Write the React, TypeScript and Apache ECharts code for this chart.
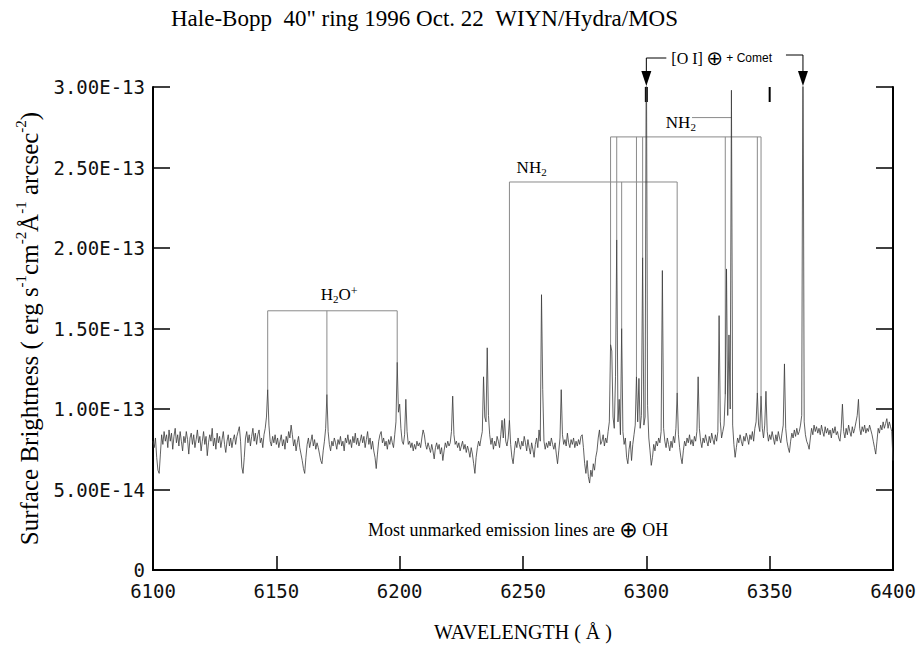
import React, { useEffect, useRef } from "react";
import * as echarts from "echarts";

// Spectrum: surface brightness in units of 1e-15 erg s^-1 cm^-2 A^-1 arcsec^-2, sampled every 0.5 A from 6100 A
const WL_START = 6100;
const WL_STEP = 0.5;
const FLUX_UNIT = 1e-15;
const flux: number[] = [
  80, 76, 82, 70, 62, 60, 72, 84, 78, 86, 80, 84, 76, 87, 80, 85, 75, 83, 88, 79, // 6100
  84, 77, 86, 80, 74, 83, 79, 86, 81, 72, 82, 85, 78, 84, 76, 81, 87, 79, 83, 74, // 6110
  80, 86, 78, 83, 71, 79, 84, 80, 88, 77, 82, 75, 85, 79, 83, 76, 81, 86, 78, 73, // 6120
  80, 84, 77, 82, 76, 81, 84, 78, 83, 86, 89, 80, 64, 60, 70, 82, 86, 79, 84, 77, // 6130
  83, 88, 80, 85, 78, 84, 87, 79, 82, 76, 84, 88, 95, 112, 90, 80, 77, 83, 79, 84, // 6140
  78, 82, 76, 80, 84, 77, 81, 75, 83, 79, 86, 82, 90, 84, 77, 81, 74, 79, 83, 76, // 6150
  72, 68, 63, 60, 70, 78, 82, 76, 80, 84, 77, 81, 75, 79, 76, 72, 68, 66, 74, 80, // 6160
  88, 109, 86, 78, 74, 80, 77, 82, 79, 75, 81, 78, 83, 77, 80, 74, 82, 79, 84, 78, // 6170
  81, 76, 83, 79, 85, 78, 82, 77, 80, 84, 79, 83, 76, 81, 86, 78, 82, 75, 80, 74, // 6180
  70, 63, 72, 80, 84, 86, 79, 82, 77, 80, 75, 81, 78, 83, 79, 76, 84, 92, 129, 98, // 6190
  103, 88, 80, 78, 84, 106, 86, 78, 80, 76, 79, 74, 78, 75, 80, 77, 79, 76, 82, 87, // 6200
  84, 78, 75, 79, 76, 73, 78, 74, 69, 76, 79, 75, 78, 72, 76, 68, 74, 79, 76, 80, // 6210
  77, 79, 86, 108, 84, 78, 80, 76, 79, 74, 77, 80, 75, 78, 73, 77, 74, 70, 76, 72, // 6220
  66, 60, 70, 76, 80, 77, 82, 86, 120, 95, 92, 138, 96, 84, 78, 82, 75, 80, 77, 83, // 6230
  80, 76, 84, 93, 82, 94, 80, 77, 82, 93, 78, 70, 66, 74, 80, 76, 82, 78, 75, 80, // 6240
  77, 83, 79, 74, 81, 76, 72, 79, 75, 70, 78, 82, 76, 87, 80, 171, 112, 80, 75, 79, // 6250
  76, 80, 77, 82, 78, 75, 79, 72, 66, 74, 82, 112, 84, 78, 81, 77, 85, 79, 76, 81, // 6260
  78, 82, 76, 80, 77, 81, 78, 83, 84, 76, 66, 60, 68, 58, 54, 62, 58, 66, 62, 70, // 6270
  74, 82, 87, 78, 80, 84, 77, 82, 79, 86, 92, 140, 136, 95, 88, 120, 205, 92, 106, 84, // 6280
  150, 86, 78, 82, 70, 66, 75, 80, 68, 78, 84, 90, 120, 92, 119, 88, 96, 194, 90, 95, // 6290
  340, 102, 82, 74, 65, 70, 78, 74, 80, 77, 82, 79, 86, 186, 88, 80, 76, 82, 78, 74, // 6300
  80, 76, 83, 79, 88, 110, 84, 76, 70, 66, 74, 80, 77, 82, 79, 84, 78, 81, 77, 83, // 6310
  80, 86, 120, 88, 80, 76, 82, 79, 84, 80, 77, 83, 79, 85, 81, 78, 84, 80, 86, 158, // 6320
  92, 82, 86, 90, 109, 187, 96, 146, 100, 298, 90, 78, 70, 76, 82, 79, 84, 80, 77, 83, // 6330
  80, 85, 82, 78, 84, 81, 86, 80, 88, 92, 110, 90, 86, 108, 88, 82, 90, 111, 86, 80, // 6340
  84, 81, 86, 82, 78, 84, 80, 86, 82, 79, 85, 90, 128, 88, 80, 76, 73, 80, 85, 82, // 6350
  87, 83, 88, 84, 86, 90, 96, 340, 92, 84, 80, 78, 75, 82, 88, 84, 90, 86, 89, 85, // 6360
  88, 84, 90, 86, 83, 89, 85, 88, 84, 87, 82, 88, 85, 89, 84, 86, 82, 80, 88, 103, // 6370
  86, 82, 88, 84, 90, 86, 83, 89, 85, 88, 92, 96, 106, 88, 84, 89, 86, 90, 85, 88, // 6380
  86, 90, 87, 84, 80, 76, 72, 80, 88, 85, 90, 87, 92, 88, 91, 94, 88, 92, 89, 86, // 6390
  68, // 6400
];

const X_MIN = 6100;
const X_MAX = 6400;
const X_INTERVAL = 50;
const Y_MIN = 0;
const Y_MAX = 300;
const Y_INTERVAL = 50;
const TOP_TICKS = [6300, 6350];

// Identification brackets (wavelengths in A, bar heights in 1e-15 units)
const H2O_LINES = [6146.5, 6170.5, 6199];
const H2O_BAR = 161;
const NH2_LOW_LINES = [6244.5, 6290, 6312.5];
const NH2_LOW_BAR = 241;
const NH2_UP_LINES = [6285.5, 6288, 6296, 6298.5, 6332, 6345, 6346.5];
const NH2_UP_BAR = 269;
const NH2_POINTER = [6318.5, 6334.5];
const NH2_POINTER_Y = 281;
const OI_LINES = [6300, 6363.5];

const LABEL_H2O = [6175.5, 171];
const LABEL_NH2_LOW = [6253.5, 250];
const LABEL_NH2_UP = [6314, 278];
const NOTE_POS = [6248, 25];

const TITLE = "Hale-Bopp\u00A0\u00A040\" ring 1996 Oct. 22\u00A0\u00A0WIYN/Hydra/MOS";

const fluxAt = (l: number) => flux[Math.round((l - WL_START) / WL_STEP)];

function bracket(lines: number[], bar: number) {
  const segs: { coords: number[][] }[] = [
    { coords: [[lines[0], bar], [lines[lines.length - 1], bar]] },
  ];
  lines.forEach((l) => segs.push({ coords: [[l, bar], [l, fluxAt(l)]] }));
  return segs;
}

const SERIF = "Liberation Serif";
const MONO = "DejaVu Sans Mono";

export default function App() {
  const ref = useRef<HTMLDivElement>(null);
  useEffect(() => {
    if (!ref.current) return;
    const chart = echarts.init(ref.current, undefined, { renderer: "svg" });
    const axisLine = { show: true, lineStyle: { color: "#000", width: 2 } };
    const bracketData = [
      ...bracket(H2O_LINES, H2O_BAR),
      ...bracket(NH2_LOW_LINES, NH2_LOW_BAR),
      ...bracket(NH2_UP_LINES, NH2_UP_BAR),
      { coords: [[NH2_POINTER[0], NH2_POINTER_Y], [NH2_POINTER[1], NH2_POINTER_Y]] },
    ];
    chart.setOption({
      animation: false,
      backgroundColor: "#fff",
      title: {
        text: TITLE,
        left: 166,
        top: 2,
        textStyle: { fontFamily: SERIF, fontSize: 23, fontWeight: "normal", color: "#000" },
      },
      grid: { left: 153, right: 28, top: 87, bottom: 72, containLabel: false },
      xAxis: [
        {
          type: "value",
          min: X_MIN,
          max: X_MAX,
          interval: X_INTERVAL,
          position: "bottom",
          axisLine,
          axisTick: { show: true, inside: true, length: 14, lineStyle: { color: "#000", width: 1.5 } },
          axisLabel: {
            color: "#111",
            fontFamily: MONO,
            fontSize: 19,
            margin: 11,
            formatter: (v: number) => String(v),
          },
          splitLine: { show: false },
          name: "WAVELENGTH ( Å )",
          nameLocation: "middle",
          nameGap: 52,
          nameTextStyle: { fontFamily: SERIF, fontSize: 20, color: "#000" },
        },
        {
          type: "value",
          min: X_MIN,
          max: X_MAX,
          interval: X_INTERVAL,
          position: "top",
          axisLine,
          axisTick: { show: false },
          axisLabel: { show: false },
          splitLine: { show: false },
        },
      ],
      yAxis: [
        {
          type: "value",
          min: Y_MIN,
          max: Y_MAX,
          interval: Y_INTERVAL,
          position: "left",
          axisLine,
          axisTick: { show: true, inside: true, length: 17, lineStyle: { color: "#000", width: 1.5 } },
          axisLabel: {
            color: "#111",
            fontFamily: MONO,
            fontSize: 19,
            margin: 8,
            formatter: (v: number) =>
              v === 0 ? "0" : (v * FLUX_UNIT).toExponential(2).toUpperCase(),
          },
          splitLine: { show: false },
          name:
            "{t|Surface Brightness ( erg s}{s|-1}{t|cm}{s|-2}{t|Å}{s|-1}{t| arcsec}{s|-2}{t|)}",
          nameLocation: "middle",
          nameRotate: 90,
          nameGap: 108,
          nameTextStyle: {
            color: "#000",
            rich: {
              t: { fontFamily: SERIF, fontSize: 25, color: "#000", lineHeight: 32 },
              s: { fontFamily: SERIF, fontSize: 15, color: "#000", verticalAlign: "top", lineHeight: 32 },
            },
          },
        },
        {
          type: "value",
          min: Y_MIN,
          max: Y_MAX,
          interval: Y_INTERVAL,
          position: "right",
          axisLine,
          axisTick: { show: true, inside: true, length: 17, lineStyle: { color: "#000", width: 1.5 } },
          axisLabel: { show: false },
          splitLine: { show: false },
        },
      ],
      series: [
        {
          type: "lines",
          coordinateSystem: "cartesian2d",
          xAxisIndex: 0,
          yAxisIndex: 0,
          polyline: true,
          silent: true,
          lineStyle: { color: "#8a8a8a", width: 1, opacity: 1 },
          data: bracketData,
          z: 2,
        },
        {
          type: "line",
          xAxisIndex: 0,
          yAxisIndex: 0,
          data: flux.map((v, i) => [WL_START + i * WL_STEP, v]),
          symbol: "none",
          showSymbol: false,
          clip: true,
          lineStyle: { color: "#3a3a3a", width: 0.8 },
          silent: true,
          z: 3,
        },
      ],
    });

    const P = (l: number, v: number) =>
      chart.convertToPixel({ xAxisIndex: 0, yAxisIndex: 0 }, [l, v]) as number[];
    const [xa, yTop] = P(OI_LINES[0], Y_MAX);
    const [xb] = P(OI_LINES[1], Y_MAX);
    const hy1 = yTop - 29;
    const hy2 = yTop - 32;
    const arrow = (x: number, yStart: number) => [
      { type: "line", shape: { x1: x, y1: yStart, x2: x, y2: yTop - 14 }, style: { stroke: "#000", lineWidth: 1 } },
      {
        type: "polygon",
        shape: { points: [[x - 5, yTop - 16], [x + 5, yTop - 16], [x, yTop - 1]] },
        style: { fill: "#000" },
      },
    ];
    const topTicks = TOP_TICKS.map((t, i) => {
      const [tx] = P(t, Y_MAX);
      return {
        type: "line",
        shape: { x1: tx, y1: yTop, x2: tx, y2: yTop + 15 },
        style: { stroke: "#000", lineWidth: i === 0 ? 3 : 2 },
      };
    });
    const textEl = (pos: number[], text: string, rich: any) => {
      const [x, y] = P(pos[0], pos[1]);
      return {
        type: "text",
        x,
        y,
        style: {
          text,
          rich,
          fill: "#000",
          align: "center",
          verticalAlign: "middle",
          textAlign: "center",
          textVerticalAlign: "middle",
        },
        z: 10,
      };
    };
    const molRich = {
      a: { fontFamily: SERIF, fontSize: 17, fill: "#000", lineHeight: 20 },
      b: { fontFamily: SERIF, fontSize: 11, fill: "#000", verticalAlign: "bottom", lineHeight: 20 },
      c: { fontFamily: SERIF, fontSize: 12, fill: "#000", verticalAlign: "top", lineHeight: 20 },
    };
    chart.setOption({
      graphic: [
        { type: "line", shape: { x1: xa, y1: hy1, x2: xa + 20, y2: hy1 }, style: { stroke: "#000", lineWidth: 1 } },
        ...arrow(xa, hy1),
        { type: "line", shape: { x1: xb - 17, y1: hy2, x2: xb, y2: hy2 }, style: { stroke: "#000", lineWidth: 1 } },
        ...arrow(xb, hy2),
        ...topTicks,
        {
          type: "text",
          x: xa + 25,
          y: hy1,
          style: {
            text: "{a|[O I]} {b|⊕}{c| + Comet}",
            fill: "#000",
            verticalAlign: "middle",
            textVerticalAlign: "middle",
            rich: {
              a: { fontFamily: SERIF, fontSize: 16, fill: "#000" },
              b: { fontFamily: "DejaVu Sans", fontSize: 20, fill: "#000" },
              c: { fontFamily: "Liberation Sans", fontSize: 12, fill: "#000" },
            },
          },
          z: 10,
        },
        textEl(LABEL_H2O, "{a|H}{b|2}{a|O}{c|+}", molRich),
        textEl(LABEL_NH2_LOW, "{a|NH}{b|2}", molRich),
        textEl(LABEL_NH2_UP, "{a|NH}{b|2}", molRich),
        textEl(NOTE_POS, "{t|Most unmarked emission lines are }{s|⊕}{t| OH}", {
          t: { fontFamily: SERIF, fontSize: 18, fill: "#000" },
          s: { fontFamily: "DejaVu Sans", fontSize: 22, fill: "#000" },
        }),
      ],
    });

    return () => chart.dispose();
  }, []);
  return (
    <div
      ref={ref}
      style={{ position: "fixed", left: 0, top: 0, width: 921, height: 647, background: "#fff" }}
    />
  );
}
